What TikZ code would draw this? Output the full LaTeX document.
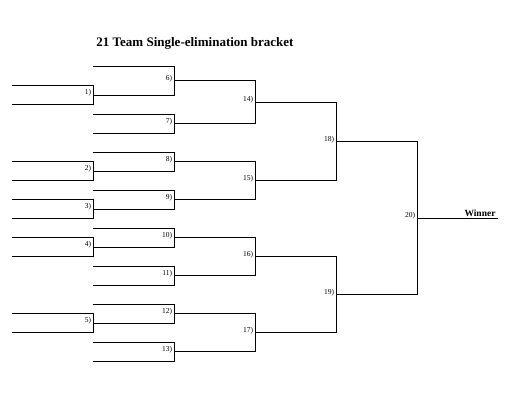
\documentclass[tikz,border=0pt]{standalone}
\usepackage{fontspec}
\setmainfont{Liberation Serif}
\begin{document}
\begin{tikzpicture}[x=1pt,y=-1pt,line width=0.8pt,
  lab/.style={font=\fontsize{7.5}{8}\selectfont,anchor=east,inner sep=0.5pt},
  ttl/.style={font=\bfseries\fontsize{13}{15}\selectfont}]
\useasboundingbox (0,0) rectangle (520,401);
\newcommand\bkt[5]{%
  \draw (#1,#3) -- (#2,#3) -- (#2,#4) -- (#1,#4);
  \node[lab] (m#5) at (#2-1,{(#3+#4)/2-2}) {#5)};}
\node[ttl] (title) at (195,43) {21 Team Single-elimination bracket};
% round 1
\bkt{12}{93}{85}{104}{1}
\bkt{12}{93}{161}{180}{2}
\bkt{12}{93}{199}{218}{3}
\bkt{12}{93}{237}{256}{4}
\bkt{12}{93}{313}{332}{5}
% round 2
\bkt{93}{174}{66}{95}{6}
\bkt{93}{174}{114}{133}{7}
\bkt{93}{174}{152}{171}{8}
\bkt{93}{174}{190}{209}{9}
\bkt{93}{174}{228}{247}{10}
\bkt{93}{174}{266}{285}{11}
\bkt{93}{174}{304}{323}{12}
\bkt{93}{174}{342}{361}{13}
% round 3
\bkt{174}{255}{80.5}{123.5}{14}
\bkt{174}{255}{161.5}{199.5}{15}
\bkt{174}{255}{237.5}{275.5}{16}
\bkt{174}{255}{313.5}{351.5}{17}
% round 4
\bkt{255}{336}{102}{180.5}{18}
\bkt{255}{336}{256.5}{332.5}{19}
% final
\bkt{336}{417}{141}{294.5}{20}
\coordinate (w) at (498,218);
\draw (417,218) -- (w);
\node[font=\bfseries\fontsize{9.5}{10}\selectfont,anchor=south,inner sep=1pt] (winner) at (480,218) {Winner};
\end{tikzpicture}
\end{document}
